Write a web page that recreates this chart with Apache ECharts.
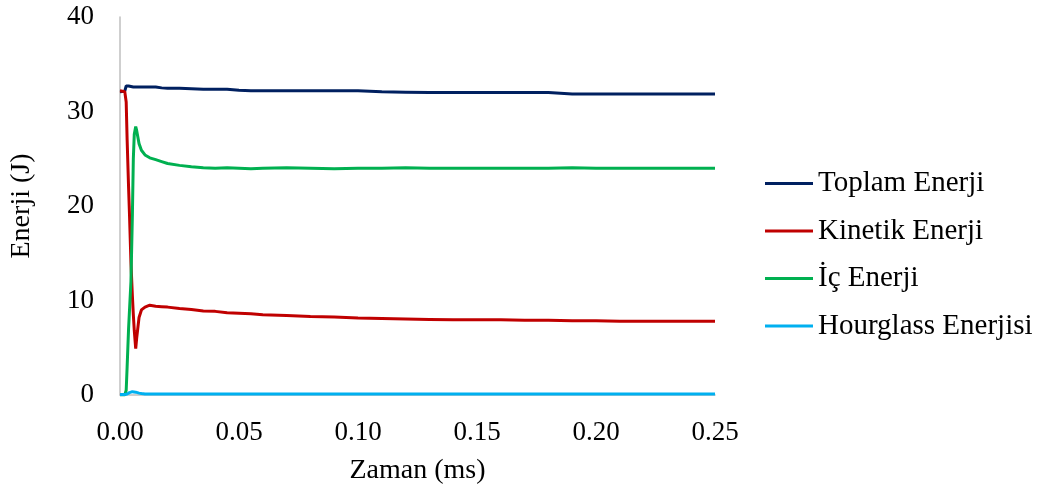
<!DOCTYPE html>
<html>
<head>
<meta charset="utf-8">
<script src="https://cdn.jsdelivr.net/npm/echarts@6/dist/echarts.min.js"></script>
<style>html,body{margin:0;padding:0;background:#fff;}#c{width:1041px;height:493px;}</style>
</head>
<body>
<div id="c"></div>
<script>
const time = [0, 0.0020, 0.0026, 0.0030, 0.0036, 0.0040, 0.0046, 0.0052, 0.0056, 0.0060, 0.0066, 0.0070, 0.0080, 0.0090, 0.0105, 0.0125, 0.015, 0.0175, 0.020, 0.025, 0.030, 0.035, 0.040, 0.045, 0.050, 0.055, 0.060, 0.070, 0.080, 0.090, 0.100, 0.110, 0.120, 0.130, 0.140, 0.150, 0.160, 0.170, 0.180, 0.190, 0.200, 0.210, 0.220, 0.230, 0.240, 0.250];
const toplam = [32.1, 32.15, 32.7, 32.7, 32.7, 32.65, 32.65, 32.6, 32.6, 32.6, 32.6, 32.6, 32.6, 32.6, 32.6, 32.6, 32.6, 32.5, 32.45, 32.45, 32.4, 32.35, 32.35, 32.35, 32.25, 32.2, 32.2, 32.2, 32.2, 32.2, 32.2, 32.1, 32.05, 32.0, 32.0, 32.0, 32.0, 32.0, 32.0, 31.85, 31.85, 31.85, 31.85, 31.85, 31.85, 31.85];
const kinetik = [32.2, 32.1, 31.0, 27.0, 22.0, 19.0, 14.0, 10.5, 8.5, 6.8, 4.9, 6.0, 8.2, 9.0, 9.3, 9.5, 9.4, 9.35, 9.3, 9.15, 9.05, 8.9, 8.85, 8.7, 8.65, 8.6, 8.5, 8.4, 8.3, 8.25, 8.15, 8.1, 8.05, 8.0, 7.95, 7.95, 7.95, 7.9, 7.9, 7.85, 7.85, 7.8, 7.8, 7.8, 7.8, 7.8];
const ic = [0, 0, 0.5, 3.0, 7.0, 9.0, 12.0, 19.0, 25.0, 27.6, 28.4, 28.0, 26.6, 25.9, 25.4, 25.1, 24.9, 24.7, 24.5, 24.3, 24.15, 24.05, 24.0, 24.05, 24.0, 23.95, 24.0, 24.05, 24.0, 23.95, 24.0, 24.0, 24.05, 24.0, 24.0, 24.0, 24.0, 24.0, 24.0, 24.05, 24.0, 24.0, 24.0, 24.0, 24.0, 24.0];
const hourglass = [0.05, 0.05, 0.08, 0.1, 0.2, 0.25, 0.3, 0.35, 0.35, 0.3, 0.3, 0.25, 0.2, 0.15, 0.1, 0.1, 0.1, 0.1, 0.1, 0.1, 0.1, 0.1, 0.1, 0.1, 0.1, 0.1, 0.1, 0.1, 0.1, 0.1, 0.1, 0.1, 0.1, 0.1, 0.1, 0.1, 0.1, 0.1, 0.1, 0.1, 0.1, 0.1, 0.1, 0.1, 0.1, 0.1];
const seriesNames = ['Toplam Enerji', 'Kinetik Enerji', 'İç Enerji', 'Hourglass Enerjisi'];
const seriesColors = ['#002060', '#C00000', '#00B050', '#00B0F0'];
const seriesValues = [toplam, kinetik, ic, hourglass];

const font = 'Liberation Serif';
const chart = echarts.init(document.getElementById('c'));
chart.setOption({
  animation: false,
  backgroundColor: '#fff',
  grid: {left: 120, right: 326, top: 17, bottom: 98},
  legend: {
    orient: 'vertical', left: 765, top: 169, padding: 0,
    icon: 'rect', itemWidth: 48, itemHeight: 3, itemGap: 18.5,
    textStyle: {fontFamily: font, fontSize: 29, color: '#000'},
    data: seriesNames
  },
  xAxis: {
    type: 'value', min: 0, max: 0.25, interval: 0.05,
    name: 'Zaman (ms)', nameLocation: 'middle', nameGap: 62,
    nameTextStyle: {fontFamily: font, fontSize: 28, color: '#000'},
    axisLine: {show: true, lineStyle: {color: '#BFBFBF', width: 1.5}},
    axisTick: {show: false}, splitLine: {show: false},
    axisLabel: {fontFamily: font, fontSize: 27, color: '#000', margin: 24, formatter: v => v.toFixed(2)}
  },
  yAxis: {
    type: 'value', min: 0, max: 40, interval: 10,
    name: 'Enerji (J)', nameLocation: 'middle', nameGap: 84, nameRotate: 90,
    nameTextStyle: {fontFamily: font, fontSize: 28, color: '#000'},
    axisLine: {show: true, lineStyle: {color: '#BFBFBF', width: 1.5}},
    axisTick: {show: false}, splitLine: {show: false},
    axisLabel: {fontFamily: font, fontSize: 27, color: '#000', margin: 26}
  },
  series: seriesNames.map((n, i) => ({
    name: n, type: 'line', showSymbol: false, symbol: 'none',
    color: seriesColors[i],
    lineStyle: {width: 3, color: seriesColors[i]},
    data: time.map((t, j) => [t, seriesValues[i][j]])
  }))
});
</script>
</body>
</html>
